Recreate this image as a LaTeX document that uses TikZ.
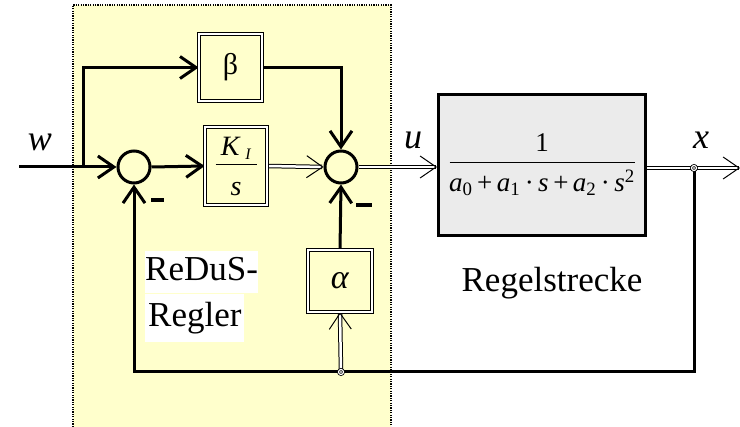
\documentclass[tikz,border=0pt]{standalone}
\usepackage{fontspec}
\setmainfont{Liberation Serif}
\usepackage{xcolor}
\definecolor{rdsbg}{HTML}{FFFFCC}
\definecolor{rdsplant}{HTML}{EBEBEB}
\usepackage{tikz}
\usetikzlibrary{arrows.meta,positioning,calc,backgrounds}

\tikzset{
  sig/.style={line width=3pt},
  sigarr/.style={sig,-{Straight Barb[length=16pt,width=22pt]}},
  dsig/.style={draw=black,line width=1pt,double=white,double distance=2.5pt},
  dsigarr/.style={dsig,-{Straight Barb[length=16pt,width=22pt]}},
  sumc/.style={circle,draw,line width=3pt,minimum size=32pt,inner sep=0pt},
  blk/.style={draw,line width=0.7pt,double=white,double distance=2pt,fill=rdsbg,inner sep=0pt},
  minus/.style={fill=black,inner sep=0pt,minimum width=13pt,minimum height=4pt},
  junc/.style={circle,draw,fill=white,line width=0.8pt,double=white,double distance=1.2pt,minimum size=5pt,inner sep=0pt},
  lbl/.style={font=\fontsize{36}{42}\selectfont\itshape,inner sep=0pt}
}

\begin{document}
\begin{tikzpicture}[x=1pt,y=-1pt]
\useasboundingbox (0,0) rectangle (740,427);

% Regler
\node[sumc] (sumA) at (134,167) {};
\node[sumc] (sumB) at (341,167) {};
\node[blk,minimum width=63pt,minimum height=67pt,font=\fontsize{30}{36}\selectfont] (beta) at (230.5,67.5) {β};
\node[blk,minimum width=62pt,minimum height=78pt,align=center,font=\fontsize{28}{34}\selectfont] (ki) at (236,166)
  {\textit{K}\,\raisebox{-0.35ex}{\fontsize{16}{18}\selectfont\textit{I}}\\[-18pt]\rule[6pt]{41pt}{1pt}\\[-10pt]\textit{s}};
\node[blk,minimum width=64pt,minimum height=62pt,font=\fontsize{34}{40}\selectfont] (alpha) at (340,281) {\textit{α}};
\node[minus] (mA) at (157.5,200) {};
\node[minus,minimum width=16pt] (mB) at (364,205) {};
\node[anchor=north west,align=left,inner sep=0pt,font=\fontsize{35}{42}\selectfont] (regler) at (145,251)
  {\setlength{\fboxsep}{0pt}\colorbox{white}{\strut ReDuS-}\\\colorbox{white}{\strut Regler}};

% Strecke
\node[draw,line width=3pt,fill=rdsplant,minimum width=207pt,minimum height=141pt,align=center,font=\fontsize{27}{32}\selectfont] (strecke) at (542,165)
  {1\\[-21pt]\rule{185pt}{1pt}\\[-3pt]\textit{a}\textsubscript{0}\,+\,\textit{a}\textsubscript{1}\,·\,\textit{s}\,+\,\textit{a}\textsubscript{2}\,·\,\textit{s}\textsuperscript{2}};
\node[font=\fontsize{35}{42}\selectfont] (streckelbl) at (552,283) {Regelstrecke};

\node[junc] (xo) at (694,168) {};
\node[junc] (fbj) at (341,372) {};

\node[lbl] (wl) at (40,142) {w};
\node[lbl] (ul) at (413,140) {u};
\node[lbl] (xl) at (701,140) {x};

\coordinate (win) at (19,167);
\coordinate (wbr) at (83,167);
\coordinate (xend) at (740,168);
\coordinate (fbl) at (134,372);

\begin{scope}[on background layer]
\fill[rdsbg] (73,5) rectangle (391,427);
\draw[line width=1.2pt,dash pattern=on 1.2pt off 1.2pt] (73,427) |- (391,5) -- (391,427);

\draw[sigarr] (win) -- (sumA.west);
\draw[sigarr] (wbr) |- (beta.west);
\draw[sigarr] (sumA.east) -- (ki.west);
\draw[dsigarr] (ki.east) -- (sumB.west);
\draw[sigarr] (beta.east) -| (sumB.north);
\draw[dsigarr] (sumB.east) -- (sumB -| strecke.west);
\draw[dsig] (strecke.east |- xo) -- (xo);
\draw[dsigarr] (xo) -- (xend);
\draw[sigarr] (xo.south) |- (fbl) -- (sumA.south);
\draw[dsigarr] (fbj) -- (alpha.south);
\draw[sigarr] (alpha.north) -- (sumB.south);
\end{scope}
\end{tikzpicture}
\end{document}
